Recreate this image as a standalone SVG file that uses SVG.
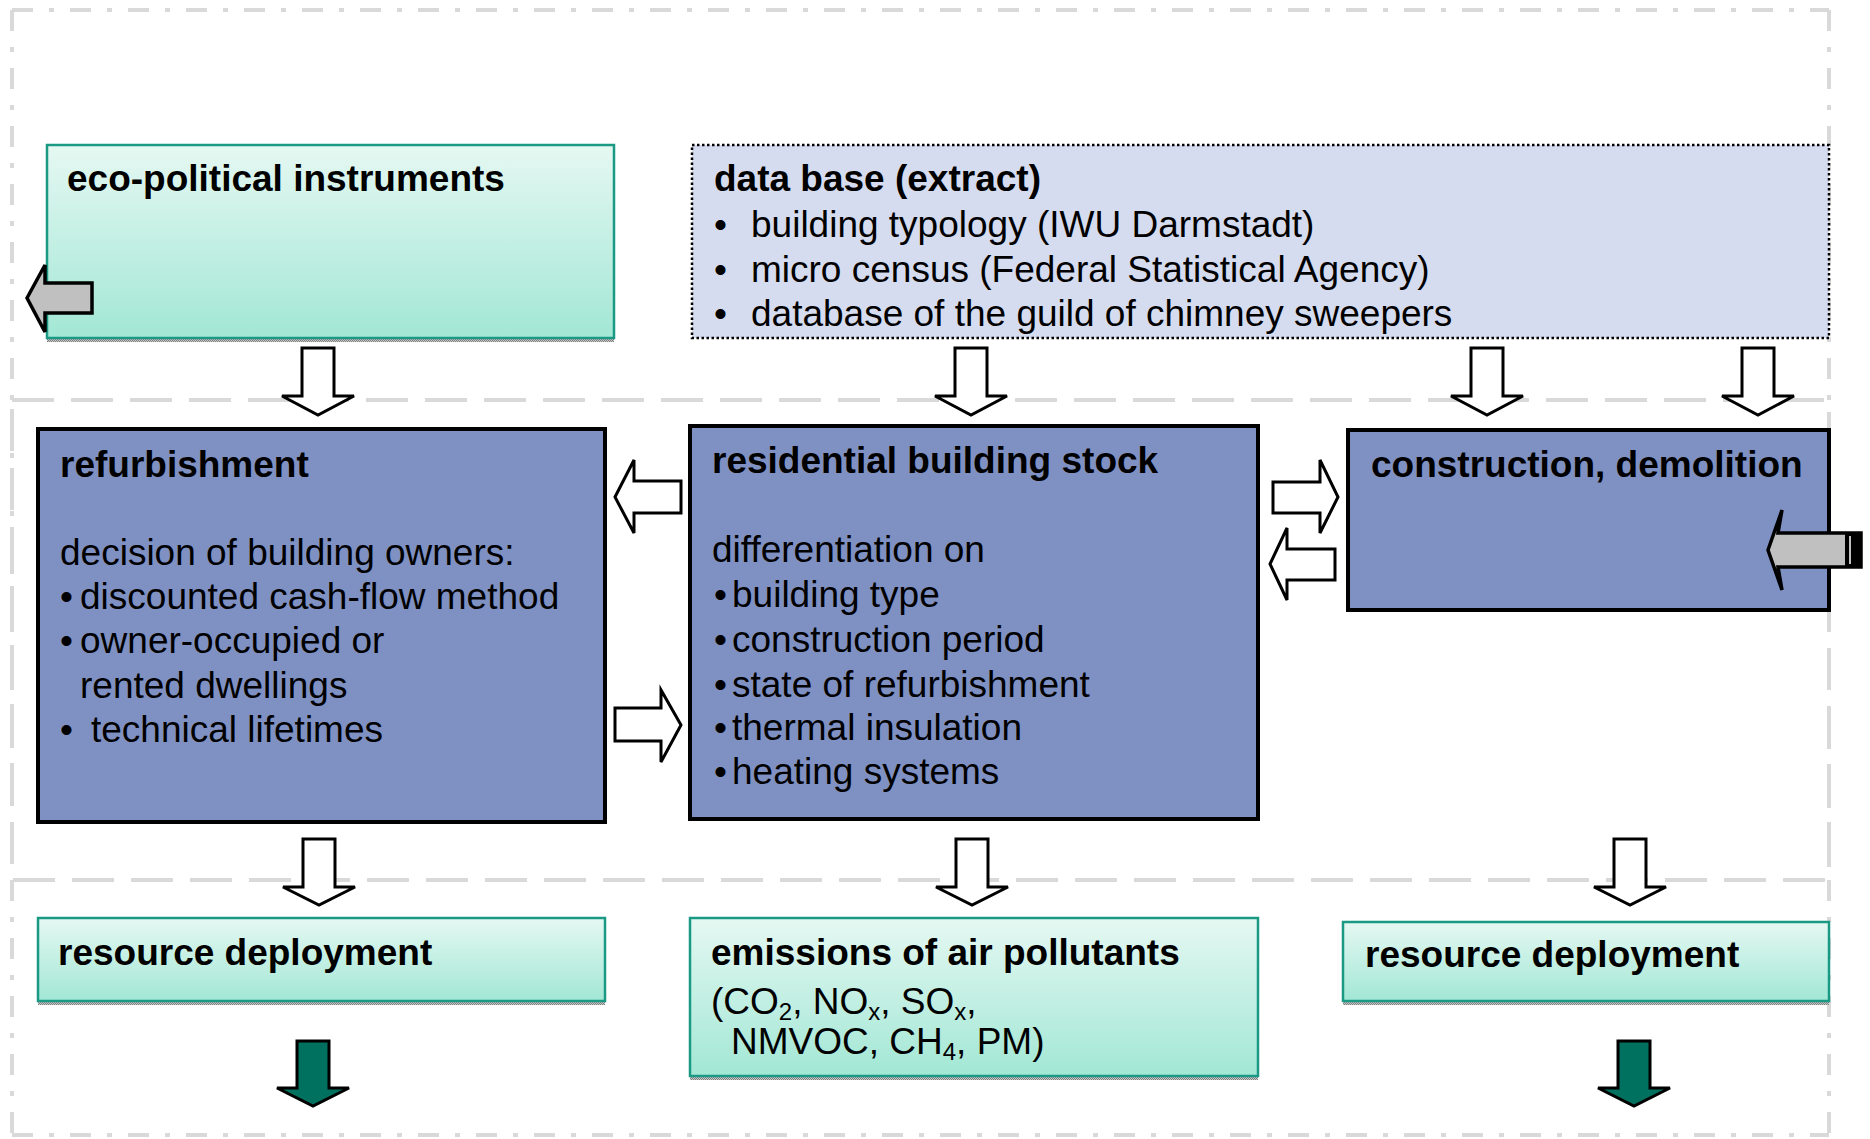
<svg xmlns="http://www.w3.org/2000/svg" width="1870" height="1139" viewBox="0 0 1870 1139">
  <defs>
    <linearGradient id="teal" x1="0" y1="0" x2="0" y2="1">
      <stop offset="0" stop-color="#e5f8f2"/>
      <stop offset="1" stop-color="#a2e7d5"/>
    </linearGradient>
    <pattern id="chk" width="2" height="2" patternUnits="userSpaceOnUse">
      <rect width="2" height="2" fill="#c8c8c8"/>
      <rect width="1" height="1" fill="#808080"/>
      <rect x="1" y="1" width="1" height="1" fill="#808080"/>
    </pattern>
  </defs>
  <style>
    .outer { stroke: #d9d9d9; stroke-width: 4; fill: none; stroke-dasharray: 21 16 5 16; }
    .mid { stroke: #d9d9d9; stroke-width: 4; fill: none; stroke-dasharray: 42 17; }
    .tealbox { fill: url(#teal); stroke: #1a9a84; stroke-width: 2.5; }
    .shadow { fill: url(#chk); }
    .bluebox { fill: #7f91c3; stroke: #000; stroke-width: 4; }
    .dbbox { fill: #d6dcef; stroke: #000; stroke-width: 2.5; stroke-dasharray: 2.5 2.5; }
    .hollow { fill: #fff; stroke: #000; stroke-width: 3; stroke-linejoin: miter; }
    .teal { fill: #00705f; stroke: #000; stroke-width: 3; }
    .gray { fill: #c0c0c0; stroke: #000; stroke-width: 3.5; }
    text { font-family: "Liberation Sans", Arial, sans-serif; font-size: 37px; fill: #000; }
    .b { font-weight: bold; }
    .sub { font-size: 24px; }
  </style>

  <g id="frames">
    <line class="outer" x1="12" y1="10" x2="1829" y2="10"/>
    <line class="outer" x1="12" y1="10" x2="12" y2="1135"/>
    <line class="outer" x1="1829" y1="10" x2="1829" y2="1135"/>
    <line class="outer" x1="12" y1="1135" x2="1829" y2="1135"/>
    <rect class="mid" x="12" y="400" width="1817" height="480"/>
  </g>

  <g id="eco-political">
    <rect class="shadow" x="47" y="338" width="567" height="4"/>
    <rect class="tealbox" x="47" y="145" width="567" height="193"/>
    <text class="b" x="67" y="191">eco-political instruments</text>
    <polygon class="gray" points="27,298 45,265 45,283 92,283 92,313 45,313 45,332"/>
  </g>

  <g id="database">
    <rect class="dbbox" x="692" y="145" width="1137" height="193"/>
    <text class="b" x="714" y="191">data base (extract)</text>
    <text x="714" y="237">•</text><text x="751" y="237">building typology (IWU Darmstadt)</text>
    <text x="714" y="282">•</text><text x="751" y="282">micro census (Federal Statistical Agency)</text>
    <text x="714" y="326">•</text><text x="751" y="326">database of the guild of chimney sweepers</text>
  </g>

  <g id="refurbishment">
    <rect class="bluebox" x="38" y="429" width="567" height="393"/>
    <text class="b" x="60" y="477">refurbishment</text>
    <text x="60" y="565">decision of building owners:</text>
    <text x="60" y="609">•</text><text x="80" y="609">discounted cash-flow method</text>
    <text x="60" y="653">•</text><text x="80" y="653">owner-occupied or</text>
    <text x="80" y="698">rented dwellings</text>
    <text x="60" y="742">•</text><text x="91" y="742">technical lifetimes</text>
  </g>

  <g id="residential">
    <rect class="bluebox" x="690" y="426" width="568" height="393"/>
    <text class="b" x="712" y="473">residential building stock</text>
    <text x="712" y="562">differentiation on</text>
    <text x="714" y="607">•</text><text x="732" y="607">building type</text>
    <text x="714" y="652">•</text><text x="732" y="652">construction period</text>
    <text x="714" y="697">•</text><text x="732" y="697">state of refurbishment</text>
    <text x="714" y="740">•</text><text x="732" y="740">thermal insulation</text>
    <text x="714" y="784">•</text><text x="732" y="784">heating systems</text>
  </g>

  <g id="construction">
    <rect class="bluebox" x="1348" y="430" width="481" height="180"/>
    <text class="b" x="1371" y="477">construction, demolition</text>
    <polygon class="gray" points="1768,550 1782,510 1778,533 1861,533 1861,567 1778,567 1782,590"/>
    <rect x="1845" y="533" width="17" height="34" fill="#000"/>
    <rect x="1849" y="536" width="2" height="28" fill="#c0c0c0"/>
  </g>

  <g id="resource-left">
    <rect class="shadow" x="38" y="1001" width="567" height="4"/>
    <rect class="tealbox" x="38" y="918" width="567" height="83"/>
    <text class="b" x="58" y="965">resource deployment</text>
  </g>

  <g id="emissions">
    <rect class="shadow" x="690" y="1076" width="568" height="4"/>
    <rect class="tealbox" x="690" y="918" width="568" height="158"/>
    <text class="b" x="711" y="965">emissions of air pollutants</text>
    <text x="711" y="1014">(CO<tspan class="sub" dy="6">2</tspan><tspan dy="-6">, NO</tspan><tspan class="sub" dy="6">x</tspan><tspan dy="-6">, SO</tspan><tspan class="sub" dy="6">x</tspan><tspan dy="-6">,</tspan><tspan x="731" dy="40">NMVOC, CH</tspan><tspan class="sub" dy="6">4</tspan><tspan dy="-6">, PM)</tspan></text>
  </g>

  <g id="resource-right">
    <rect class="shadow" x="1343" y="1001" width="486" height="4"/>
    <rect class="tealbox" x="1343" y="922" width="486" height="79"/>
    <text class="b" x="1365" y="967">resource deployment</text>
  </g>

  <g id="connectors">
    <polygon class="hollow" points="302,348 334,348 334,396 354,396 318,415 282,396 302,396"/>
    <polygon class="hollow" points="955,348 987,348 987,396 1007,396 971,415 935,396 955,396"/>
    <polygon class="hollow" points="1471,348 1503,348 1503,396 1523,396 1487,415 1451,396 1471,396"/>
    <polygon class="hollow" points="1742,348 1774,348 1774,396 1794,396 1758,415 1722,396 1742,396"/>
    <polygon class="hollow" points="615,497 634,460 634,481 681,481 681,513 634,513 634,533"/>
    <polygon class="hollow" points="615,708 661,708 661,690 681,725 661,762 661,741 615,741"/>
    <polygon class="hollow" points="1273,482 1320,482 1320,460 1338,497 1320,533 1320,513 1273,513"/>
    <polygon class="hollow" points="1270,564 1287,528 1287,549 1335,549 1335,580 1287,580 1287,600"/>
    <polygon class="hollow" points="303,839 335,839 335,887 355,887 319,905 283,887 303,887"/>
    <polygon class="hollow" points="956,839 988,839 988,887 1008,887 972,905 936,887 956,887"/>
    <polygon class="hollow" points="1614,839 1646,839 1646,887 1666,887 1630,905 1594,887 1614,887"/>
    <polygon class="teal" points="297,1041 329,1041 329,1088 349,1088 313,1106 277,1088 297,1088"/>
    <polygon class="teal" points="1618,1041 1650,1041 1650,1088 1670,1088 1634,1106 1598,1088 1618,1088"/>
  </g>
</svg>
